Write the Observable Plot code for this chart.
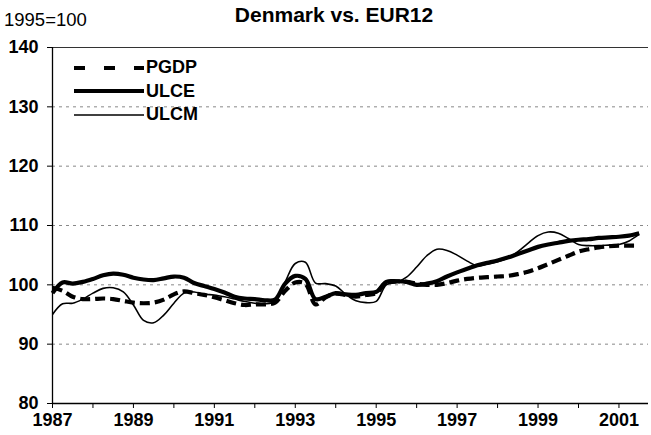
<!DOCTYPE html>
<html>
<head>
<meta charset="utf-8">
<script src="https://cdn.jsdelivr.net/npm/d3@7"></script>
<script src="https://cdn.jsdelivr.net/npm/@observablehq/plot@0.6"></script>
<style>
  html, body { margin: 0; padding: 0; background: #fff; }
  #wrap { position: relative; width: 651px; height: 435px; font-family: "Liberation Sans", Arial, sans-serif; }
  #title { position: absolute; left: 0; width: 668px; top: 3px; text-align: center; font-weight: bold; font-size: 21px; }
  #sub { position: absolute; left: 4px; top: 9px; font-size: 18.5px; }
  #legend { position: absolute; left: 74px; top: 56px; font-weight: bold; font-size: 18px; }
  #legend .row { display: flex; align-items: center; height: 23.5px; }
  #legend svg { margin-right: 2px; }
</style>
</head>
<body>
<div id="wrap">
  <div id="chart"></div>
  <div id="title">Denmark vs. EUR12</div>
  <div id="sub">1995=100</div>
  <div id="legend"></div>
</div>
<script>
// Categories: quarterly observations, 1987Q1 .. 2001Q3
const years = [1987, 1988, 1989, 1990, 1991, 1992, 1993, 1994, 1995, 1996, 1997, 1998, 1999, 2000, 2001];
const quarters = [1, 2, 3, 4];
const lastPeriod = "2001Q3";

// Series values (index 1995 = 100)
const PGDP = [
  99.5, 99.0, 98.0, 97.6, 97.6, 97.7, 97.6, 97.3,
  97.0, 96.9, 97.0, 97.5, 98.4, 98.9, 98.6, 98.3,
  97.9, 97.4, 96.9, 96.6, 96.7, 96.7, 97.0, 99.0,
  100.4, 100.2, 96.7, 97.9, 98.5, 98.3, 98.0, 98.3,
  98.6, 100.4, 100.6, 100.5, 100.2, 100.0, 100.0, 100.3,
  100.7, 101.0, 101.2, 101.3, 101.4, 101.5, 101.8, 102.2,
  102.8, 103.5, 104.2, 104.9, 105.6, 106.0, 106.3, 106.5,
  106.6, 106.6, 106.6
];
const ULCE = [
  98.6, 100.4, 100.2, 100.5, 101.0, 101.6, 101.9, 101.7,
  101.2, 100.9, 100.8, 101.1, 101.4, 101.2, 100.3, 99.8,
  99.3, 98.7, 98.0, 97.7, 97.6, 97.4, 97.5, 100.2,
  101.5, 101.0, 97.6, 98.0, 98.6, 98.4, 98.3, 98.6,
  98.8, 100.5, 100.6, 100.5, 100.0, 100.2, 100.6, 101.4,
  102.1, 102.7, 103.3, 103.7, 104.1, 104.6, 105.2, 105.8,
  106.4, 106.8, 107.1, 107.4, 107.6, 107.7, 107.9, 108.0,
  108.1, 108.3, 108.7
];
const ULCM = [
  95.0, 96.8, 96.9, 97.6, 98.6, 99.4, 99.5, 98.8,
  96.6, 94.0, 93.6, 94.9, 96.9, 98.6, 98.8, 98.4,
  98.3, 98.0, 97.6, 97.2, 96.9, 96.8, 97.2, 100.5,
  103.6, 103.8, 100.3, 100.2, 99.8, 98.4, 97.3, 97.0,
  97.2, 100.0, 100.4, 101.3, 103.0, 104.9, 106.0, 105.8,
  105.0, 104.0, 103.2, 103.5, 103.9, 104.5, 105.6, 107.0,
  108.3, 108.9, 108.7, 107.8, 106.8, 106.6, 106.6, 106.7,
  106.8, 107.4, 108.5
];

// Axis tick labels
const yTicks = [80, 90, 100, 110, 120, 130, 140];
const gridValues = [90, 100, 110, 120, 130];
const xTickYears = years;
const xLabelYears = [1987, 1989, 1991, 1993, 1995, 1997, 1999, 2001];

// Build the table
const periods = years.flatMap(y => quarters.map(q => ({label: `${y}Q${q}`, t: y + (q - 1) / 4})));
const upto = periods.slice(0, periods.findIndex(p => p.label === lastPeriod) + 1);
const seriesList = [["PGDP", PGDP], ["ULCE", ULCE], ["ULCM", ULCM]];
const rows = seriesList.flatMap(([name, vals]) => upto.map((p, i) => ({series: name, t: p.t, v: vals[i]})));

const styles = {
  PGDP: {strokeWidth: 4.2, strokeDasharray: "10,5"},
  ULCE: {strokeWidth: 4.2, strokeDasharray: null},
  ULCM: {strokeWidth: 1.6, strokeDasharray: null}
};

const lineMarks = seriesList.map(([name]) => Plot.line(rows.filter(r => r.series === name), {
  x: "t", y: "v", stroke: "black", curve: "catmull-rom",
  strokeWidth: styles[name].strokeWidth, strokeDasharray: styles[name].strokeDasharray,
  strokeLinecap: "butt", strokeLinejoin: "round"
}));

const chart = Plot.plot({
  width: 651, height: 435,
  marginLeft: 52, marginRight: 3, marginTop: 47, marginBottom: 32,
  style: {fontFamily: "'Liberation Sans', Arial, sans-serif", fontSize: "18px", color: "black", background: "white"},
  x: {domain: [1987, 2001.73]},
  y: {domain: [80, 140]},
  marks: [
    Plot.ruleY(gridValues, {stroke: "#888", strokeDasharray: "3,4", strokeWidth: 1}),
    Plot.ruleY([140], {stroke: "#333", strokeWidth: 1}),
    Plot.ruleY([80], {stroke: "black", strokeWidth: 1.3}),
    Plot.ruleX([1987], {stroke: "black", strokeWidth: 1.3}),
    ...lineMarks,
    Plot.axisY({ticks: yTicks, tickSize: 5, tickPadding: 9, fontWeight: "bold", label: null, tickFormat: d => String(d)}),
    Plot.axisX({ticks: xTickYears, tickSize: 5, tickPadding: 5, fontWeight: "bold", label: null,
      tickFormat: d => xLabelYears.includes(d) ? String(d) : ""})
  ]
});
document.getElementById("chart").appendChild(chart);

// Legend
const legend = d3.select("#legend");
seriesList.forEach(([name]) => {
  const row = legend.append("div").attr("class", "row");
  const svg = row.append("svg").attr("width", 70).attr("height", 10);
  svg.append("line").attr("x1", 0).attr("x2", 70).attr("y1", 5).attr("y2", 5)
    .attr("stroke", "black").attr("stroke-width", styles[name].strokeWidth)
    .attr("stroke-dasharray", name === "PGDP" ? "11,19" : null);
  row.append("span").text(name);
});
</script>
</body>
</html>
